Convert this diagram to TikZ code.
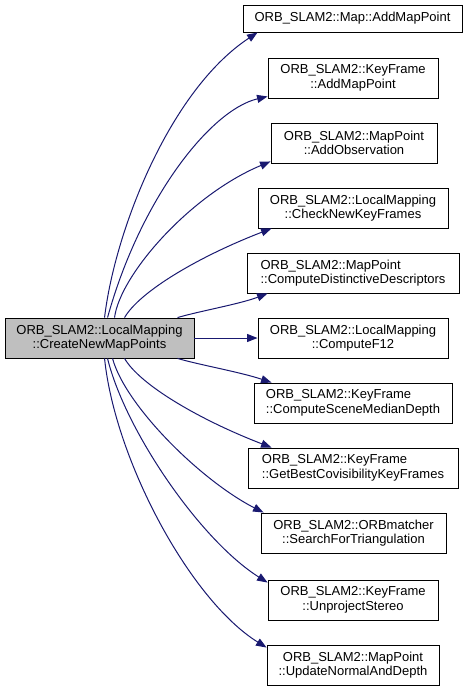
\documentclass[tikz,border=0pt]{standalone}
\usepackage{fontspec}
\setmainfont{Liberation Sans}
\usetikzlibrary{arrows.meta}
\definecolor{edgeblue}{HTML}{191970}
\definecolor{srcgray}{HTML}{BFBFBF}
\begin{document}
\begin{tikzpicture}[x=1pt,y=-1pt,
  box/.style={draw=black, line width=0.9pt, fill=white, inner sep=0pt, font=\fontsize{13}{14.5}\selectfont, align=center},
  lbox/.style={box, align=left},
  call/.style={draw=edgeblue, line width=1pt, -{Triangle[length=10.5pt,width=8pt]}, fill=none},
]
\useasboundingbox (0,0) rectangle (469,691);
\node[box, fill=srcgray, minimum width=189pt, minimum height=40pt] (src) at (99.5,338) {ORB\_SLAM2::LocalMapping\\::CreateNewMapPoints};
\node[box, minimum width=219pt, minimum height=27pt] (t1) at (352.5,18.5) {ORB\_SLAM2::Map::AddMapPoint};
\node[box, minimum width=170pt, minimum height=40pt] (t2) at (353,78) {ORB\_SLAM2::KeyFrame\\::AddMapPoint};
\node[box, minimum width=166pt, minimum height=40pt] (t3) at (354,143) {ORB\_SLAM2::MapPoint\\::AddObservation};
\node[box, minimum width=190pt, minimum height=40pt] (t4) at (353,208) {ORB\_SLAM2::LocalMapping\\::CheckNewKeyFrames};
\node[lbox, minimum width=212pt, minimum height=40pt] (t5) at (353,273) {ORB\_SLAM2::MapPoint\\::ComputeDistinctiveDescriptors};
\node[box, minimum width=190pt, minimum height=40pt] (t6) at (353,338) {ORB\_SLAM2::LocalMapping\\::ComputeF12};
\node[lbox, minimum width=198pt, minimum height=40pt] (t7) at (353,403) {ORB\_SLAM2::KeyFrame\\::ComputeSceneMedianDepth};
\node[lbox, minimum width=210pt, minimum height=40pt] (t8) at (353,468) {ORB\_SLAM2::KeyFrame\\::GetBestCovisibilityKeyFrames};
\node[box, minimum width=185pt, minimum height=40pt] (t9) at (353.5,533) {ORB\_SLAM2::ORBmatcher\\::SearchForTriangulation};
\node[box, minimum width=170pt, minimum height=40pt] (t10) at (353,600) {ORB\_SLAM2::KeyFrame\\::UnprojectStereo};
\node[box, minimum width=172pt, minimum height=40pt] (t11) at (353,665) {ORB\_SLAM2::MapPoint\\::UpdateNormalAndDepth};

\draw[call] ([xshift=100pt]src.north west) .. controls (115,230) and (170,90) .. ([xshift=15pt]t1.south west);
\draw[call] ([xshift=103pt]src.north west) .. controls (140,200) and (210,110) .. ([yshift=2pt]t2.south west);
\draw[call] ([xshift=110pt]src.north west) .. controls (120,275) and (190,195) .. ([yshift=2pt]t3.south west);
\draw[call] ([xshift=120pt]src.north west) .. controls (140,291) and (200,256) .. ([xshift=14pt]t4.south west);
\draw[call] ([xshift=173pt]src.north west) .. controls (200,311) and (240,304) .. ([xshift=21pt]t5.south west);
\draw[call] (src.east) -- (t6.west);
\draw[call] ([xshift=173pt]src.south west) .. controls (200,365) and (240,372) .. ([xshift=18pt]t7.north west);
\draw[call] ([xshift=120pt]src.south west) .. controls (140,385) and (200,420) .. ([xshift=24pt]t8.north west);
\draw[call] ([xshift=108pt]src.south west) .. controls (125,405) and (200,480) .. ([xshift=3pt]t9.north west);
\draw[call] ([xshift=103pt]src.south west) .. controls (125,430) and (200,540) .. ([yshift=-3pt]t10.north west);
\draw[call] ([xshift=100pt]src.south west) .. controls (115,460) and (190,600) .. ([yshift=-3pt]t11.north west);
\end{tikzpicture}
\end{document}
